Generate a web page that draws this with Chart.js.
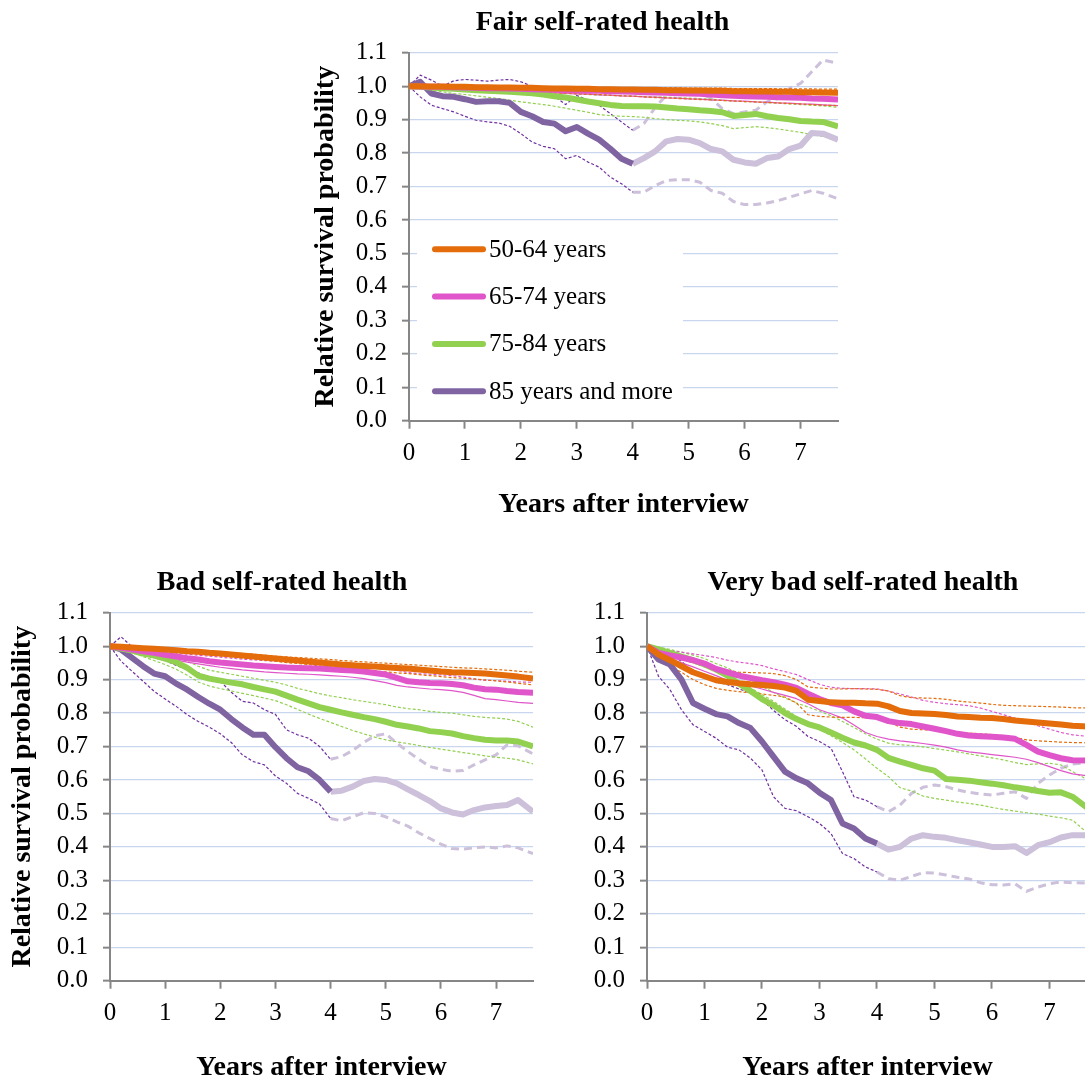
<!DOCTYPE html>
<html>
<head>
<meta charset="utf-8">
<script src="https://cdn.jsdelivr.net/npm/chart.js@4.4.1/dist/chart.umd.min.js"></script>
<style>
  html, body { margin: 0; padding: 0; background: #fff; width: 1085px; height: 1083px; overflow: hidden; position: relative; }
  canvas { position: absolute; }
</style>
</head>
<body>
<canvas id="fair" width="644" height="530" style="left:290px;top:0px"></canvas>
<canvas id="bad" width="570" height="530" style="left:0px;top:560px"></canvas>
<canvas id="verybad" width="646" height="530" style="left:540px;top:560px"></canvas>
<script>
// Years after interview (shared x values for every series)
const years = [0, 0.2, 0.4, 0.6, 0.8, 1.0, 1.2, 1.4, 1.6, 1.8,
  2.0, 2.2, 2.4, 2.6, 2.8, 3.0, 3.2, 3.4, 3.6, 3.8,
  4.0, 4.2, 4.4, 4.6, 4.8, 5.0, 5.2, 5.4, 5.6, 5.8,
  6.0, 6.2, 6.4, 6.6, 6.8, 7.0, 7.2, 7.4, 7.67];
const xTicks = [0, 1, 2, 3, 4, 5, 6, 7];
const yTicks = [0, 0.1, 0.2, 0.3, 0.4, 0.5, 0.6, 0.7, 0.8, 0.9, 1.0, 1.1];
const ageGroups = ['50-64 years', '65-74 years', '75-84 years', '85 years and more'];
const cutYear = 4; // 85+ curve is drawn faded after this point

// Fair self-rated health
const fair5064 = [1.0,1.0,0.999,0.999,0.998,0.998,0.997,0.997,0.996,0.996,0.995,0.995,0.994,0.993,0.993,0.992,0.992,0.991,0.991,0.99,0.99,0.989,0.989,0.988,0.988,0.987,0.987,0.986,0.986,0.985,0.985,0.984,0.984,0.983,0.983,0.982,0.982,0.981,0.98];
const fair5064Hi = [1.0,1.0,1.0,1.0,1.0,0.999,0.999,0.999,0.999,0.998,0.998,0.998,0.998,0.997,0.997,0.997,0.997,0.996,0.996,0.996,0.996,0.995,0.995,0.995,0.995,0.994,0.994,0.994,0.994,0.993,0.993,0.993,0.993,0.992,0.992,0.992,0.992,0.991,0.991];
const fair5064Lo = [1.0,0.999,0.997,0.996,0.994,0.993,0.991,0.99,0.988,0.987,0.985,0.984,0.982,0.98,0.979,0.977,0.976,0.975,0.973,0.971,0.97,0.968,0.966,0.965,0.963,0.962,0.96,0.959,0.957,0.956,0.954,0.953,0.951,0.95,0.948,0.947,0.945,0.943,0.942];
const fair6574 = [1.0,0.999,0.998,0.998,0.997,0.996,0.995,0.994,0.994,0.993,0.992,0.991,0.99,0.989,0.988,0.987,0.986,0.986,0.985,0.984,0.983,0.982,0.981,0.98,0.979,0.978,0.977,0.975,0.973,0.971,0.97,0.969,0.968,0.967,0.966,0.965,0.963,0.962,0.96];
const fair6574Hi = [1.0,1.0,1.0,0.999,0.999,0.998,0.998,0.997,0.997,0.996,0.996,0.995,0.995,0.994,0.994,0.993,0.993,0.992,0.992,0.991,0.991,0.99,0.99,0.989,0.989,0.988,0.987,0.987,0.986,0.985,0.985,0.984,0.983,0.983,0.982,0.981,0.98,0.979,0.978];
const fair6574Lo = [1.0,0.998,0.996,0.995,0.993,0.992,0.99,0.989,0.987,0.986,0.984,0.983,0.981,0.98,0.978,0.977,0.976,0.974,0.973,0.971,0.97,0.968,0.967,0.965,0.964,0.962,0.961,0.959,0.958,0.956,0.955,0.953,0.952,0.95,0.949,0.947,0.946,0.944,0.942];
const fair7584 = [1.0,0.998,0.996,0.994,0.992,0.99,0.988,0.986,0.985,0.983,0.981,0.979,0.975,0.97,0.966,0.96,0.954,0.949,0.944,0.941,0.94,0.94,0.939,0.936,0.933,0.931,0.928,0.926,0.922,0.911,0.914,0.917,0.91,0.905,0.901,0.896,0.894,0.893,0.88];
const fair7584Hi = [1.0,1.0,1.0,0.999,0.998,0.997,0.996,0.995,0.993,0.991,0.989,0.987,0.985,0.983,0.98,0.977,0.975,0.973,0.972,0.971,0.97,0.969,0.968,0.967,0.966,0.964,0.963,0.961,0.958,0.955,0.954,0.953,0.951,0.949,0.947,0.945,0.943,0.941,0.937];
const fair7584Lo = [1.0,0.993,0.988,0.983,0.978,0.975,0.971,0.967,0.963,0.958,0.953,0.949,0.945,0.94,0.934,0.928,0.922,0.915,0.912,0.91,0.909,0.907,0.903,0.9,0.898,0.896,0.893,0.888,0.882,0.873,0.876,0.879,0.876,0.872,0.867,0.862,0.855,0.85,0.843];
const fair85 = [1.0,1.013,0.978,0.97,0.968,0.961,0.953,0.955,0.955,0.95,0.923,0.91,0.893,0.888,0.865,0.878,0.858,0.84,0.813,0.783,0.768,0.785,0.805,0.835,0.842,0.84,0.83,0.812,0.805,0.78,0.772,0.768,0.785,0.79,0.812,0.822,0.86,0.858,0.84];
const fair85Hi = [1.0,1.033,1.018,1.0,1.016,1.02,1.018,1.015,1.018,1.02,1.013,1.0,0.98,0.97,0.945,0.972,0.958,0.943,0.918,0.893,0.868,0.888,0.936,0.973,0.983,0.988,0.98,0.963,0.933,0.918,0.923,0.928,0.953,0.963,0.993,1.008,1.043,1.078,1.068];
const fair85Lo = [1.0,0.968,0.943,0.933,0.923,0.91,0.898,0.893,0.89,0.88,0.858,0.833,0.82,0.813,0.783,0.793,0.773,0.758,0.728,0.708,0.683,0.683,0.703,0.718,0.72,0.72,0.713,0.688,0.68,0.655,0.646,0.646,0.651,0.658,0.668,0.678,0.688,0.68,0.663];

// Bad self-rated health
const bad5064 = [1.0,0.998,0.996,0.994,0.992,0.99,0.988,0.985,0.983,0.98,0.978,0.975,0.972,0.969,0.966,0.963,0.96,0.957,0.954,0.951,0.948,0.945,0.943,0.941,0.939,0.937,0.935,0.933,0.93,0.927,0.924,0.922,0.921,0.92,0.918,0.915,0.912,0.909,0.903];
const bad5064Hi = [1.0,0.999,0.998,0.997,0.995,0.993,0.991,0.989,0.987,0.985,0.983,0.98,0.978,0.976,0.973,0.97,0.968,0.966,0.964,0.962,0.96,0.957,0.955,0.953,0.951,0.949,0.947,0.945,0.943,0.941,0.939,0.937,0.935,0.934,0.932,0.93,0.928,0.925,0.922];
const bad5064Lo = [1.0,0.997,0.994,0.991,0.988,0.985,0.983,0.98,0.977,0.974,0.971,0.968,0.965,0.962,0.958,0.955,0.951,0.948,0.945,0.941,0.938,0.935,0.932,0.929,0.926,0.923,0.92,0.918,0.915,0.912,0.909,0.906,0.904,0.902,0.899,0.896,0.893,0.889,0.884];
const bad6574 = [1.0,0.995,0.99,0.985,0.98,0.974,0.969,0.964,0.96,0.955,0.951,0.948,0.945,0.942,0.94,0.938,0.936,0.935,0.934,0.933,0.931,0.929,0.927,0.924,0.92,0.915,0.905,0.895,0.892,0.89,0.889,0.887,0.883,0.876,0.871,0.87,0.866,0.863,0.861];
const bad6574Hi = [1.0,0.997,0.994,0.99,0.987,0.983,0.979,0.976,0.973,0.97,0.967,0.964,0.961,0.959,0.957,0.955,0.953,0.952,0.951,0.95,0.949,0.947,0.945,0.943,0.94,0.935,0.928,0.921,0.918,0.916,0.914,0.912,0.908,0.902,0.898,0.897,0.895,0.893,0.892];
const bad6574Lo = [1.0,0.993,0.986,0.979,0.972,0.965,0.958,0.952,0.947,0.942,0.937,0.933,0.929,0.926,0.923,0.921,0.919,0.917,0.916,0.914,0.912,0.91,0.907,0.903,0.897,0.891,0.883,0.878,0.875,0.872,0.87,0.867,0.862,0.853,0.843,0.84,0.836,0.832,0.829];
const bad7584 = [1.0,0.993,0.987,0.978,0.972,0.963,0.952,0.935,0.912,0.903,0.897,0.891,0.886,0.878,0.871,0.864,0.852,0.84,0.829,0.818,0.81,0.802,0.795,0.788,0.782,0.774,0.765,0.76,0.754,0.746,0.743,0.739,0.731,0.725,0.72,0.718,0.718,0.715,0.7];
const bad7584Hi = [1.0,0.996,0.992,0.987,0.981,0.974,0.966,0.955,0.94,0.928,0.922,0.916,0.91,0.904,0.898,0.892,0.884,0.874,0.866,0.858,0.851,0.846,0.84,0.835,0.83,0.825,0.818,0.813,0.81,0.805,0.802,0.8,0.795,0.79,0.787,0.785,0.782,0.775,0.758];
const bad7584Lo = [1.0,0.99,0.98,0.969,0.957,0.945,0.931,0.913,0.893,0.881,0.873,0.866,0.859,0.852,0.845,0.837,0.825,0.811,0.797,0.784,0.772,0.76,0.748,0.738,0.728,0.72,0.714,0.709,0.703,0.697,0.692,0.687,0.682,0.677,0.672,0.668,0.665,0.66,0.648];
const bad85 = [1.0,0.99,0.965,0.94,0.918,0.91,0.888,0.87,0.848,0.828,0.81,0.782,0.757,0.735,0.735,0.698,0.665,0.638,0.626,0.6,0.565,0.568,0.58,0.597,0.603,0.6,0.59,0.572,0.555,0.537,0.515,0.503,0.497,0.51,0.518,0.522,0.525,0.54,0.505];
const bad85Hi = [1.0,1.028,0.998,0.975,0.965,0.958,0.942,0.93,0.92,0.908,0.895,0.862,0.835,0.83,0.81,0.796,0.75,0.735,0.725,0.7,0.662,0.67,0.688,0.712,0.732,0.738,0.71,0.685,0.662,0.64,0.632,0.626,0.628,0.645,0.66,0.675,0.705,0.702,0.678];
const bad85Lo = [1.0,0.955,0.925,0.895,0.865,0.842,0.82,0.795,0.775,0.758,0.738,0.712,0.675,0.655,0.645,0.612,0.59,0.56,0.545,0.528,0.485,0.478,0.49,0.502,0.5,0.49,0.475,0.462,0.442,0.425,0.408,0.395,0.393,0.397,0.4,0.397,0.403,0.397,0.38];

// Very bad self-rated health
const vb5064 = [1.0,0.975,0.958,0.94,0.922,0.91,0.898,0.893,0.889,0.886,0.884,0.881,0.876,0.866,0.84,0.836,0.832,0.831,0.831,0.829,0.828,0.82,0.806,0.8,0.799,0.797,0.794,0.79,0.788,0.786,0.785,0.782,0.778,0.775,0.772,0.769,0.766,0.762,0.76];
const vb5064Hi = [1.0,0.99,0.975,0.962,0.95,0.94,0.932,0.926,0.922,0.921,0.92,0.918,0.912,0.9,0.878,0.875,0.872,0.872,0.873,0.872,0.871,0.866,0.852,0.846,0.845,0.844,0.841,0.836,0.833,0.83,0.826,0.823,0.822,0.821,0.82,0.819,0.818,0.816,0.815];
const vb5064Lo = [1.0,0.96,0.94,0.922,0.9,0.885,0.874,0.868,0.864,0.86,0.857,0.853,0.848,0.83,0.795,0.79,0.788,0.787,0.787,0.786,0.785,0.775,0.758,0.752,0.75,0.749,0.746,0.742,0.74,0.738,0.736,0.732,0.727,0.72,0.717,0.715,0.713,0.712,0.711];
const vb6574 = [1.0,0.98,0.972,0.966,0.958,0.948,0.932,0.922,0.912,0.905,0.898,0.892,0.885,0.875,0.858,0.842,0.83,0.823,0.805,0.792,0.788,0.776,0.77,0.767,0.76,0.753,0.746,0.738,0.733,0.731,0.729,0.727,0.723,0.705,0.685,0.674,0.665,0.659,0.658];
const vb6574Hi = [1.0,0.992,0.986,0.982,0.977,0.972,0.966,0.958,0.952,0.948,0.942,0.932,0.924,0.915,0.9,0.886,0.877,0.874,0.873,0.873,0.872,0.866,0.857,0.848,0.838,0.832,0.828,0.825,0.822,0.815,0.805,0.795,0.785,0.774,0.762,0.752,0.742,0.735,0.73];
const vb6574Lo = [1.0,0.975,0.962,0.95,0.938,0.925,0.912,0.898,0.89,0.881,0.872,0.862,0.853,0.843,0.828,0.81,0.798,0.785,0.764,0.742,0.73,0.722,0.717,0.713,0.709,0.704,0.698,0.69,0.684,0.68,0.676,0.672,0.668,0.662,0.652,0.64,0.628,0.618,0.612];
const vb7584 = [1.0,0.99,0.98,0.969,0.958,0.945,0.93,0.912,0.888,0.866,0.842,0.823,0.8,0.782,0.767,0.757,0.742,0.726,0.712,0.703,0.69,0.666,0.655,0.645,0.635,0.628,0.603,0.601,0.598,0.593,0.589,0.584,0.578,0.573,0.567,0.562,0.563,0.55,0.515];
const vb7584Hi = [1.0,0.997,0.99,0.982,0.973,0.963,0.948,0.935,0.918,0.9,0.88,0.862,0.845,0.83,0.818,0.806,0.792,0.775,0.757,0.738,0.722,0.71,0.705,0.703,0.699,0.694,0.689,0.684,0.678,0.672,0.666,0.66,0.652,0.646,0.648,0.65,0.645,0.625,0.6];
const vb7584Lo = [1.0,0.99,0.978,0.965,0.952,0.938,0.925,0.912,0.895,0.875,0.855,0.835,0.812,0.79,0.77,0.752,0.732,0.712,0.69,0.663,0.635,0.61,0.577,0.567,0.552,0.545,0.54,0.534,0.53,0.525,0.518,0.512,0.507,0.502,0.498,0.492,0.487,0.48,0.44];
const vb85 = [1.0,0.96,0.945,0.9,0.83,0.813,0.797,0.79,0.77,0.755,0.715,0.67,0.625,0.605,0.59,0.562,0.54,0.47,0.455,0.425,0.41,0.392,0.4,0.425,0.435,0.43,0.427,0.42,0.414,0.407,0.4,0.4,0.402,0.382,0.405,0.414,0.428,0.435,0.435];
const vb85Hi = [1.0,0.995,0.972,0.955,0.922,0.905,0.893,0.885,0.872,0.86,0.84,0.808,0.78,0.76,0.73,0.715,0.695,0.625,0.55,0.54,0.52,0.505,0.525,0.56,0.578,0.585,0.58,0.57,0.563,0.558,0.555,0.56,0.565,0.545,0.59,0.615,0.635,0.648,0.652];
const vb85Lo = [1.0,0.91,0.87,0.81,0.765,0.745,0.725,0.698,0.69,0.665,0.63,0.55,0.515,0.508,0.49,0.47,0.44,0.38,0.365,0.34,0.325,0.305,0.3,0.312,0.323,0.322,0.316,0.309,0.304,0.293,0.287,0.286,0.29,0.267,0.28,0.29,0.295,0.293,0.292];

const colors = ['#e46c0a', '#e055c9', '#92d050', '#8064a2'];
const lateColor = '#ccc0da';
const oldCiColor = '#7030a0';

Chart.defaults.font.family = '"Liberation Serif", "Times New Roman", serif';
Chart.defaults.color = '#000';

function pts(vals, from, to) {
  return years.map((x, i) => ({ x: x, y: vals[i] }))
    .filter(p => p.x >= from - 1e-9 && p.x <= to + 1e-9 && p.y != null);
}

function line(label, data, color, width, dash, order) {
  return {
    label: label, data: data, borderColor: color, borderWidth: width,
    borderDash: dash || [], pointRadius: 0, tension: 0, fill: false,
    order: order, borderCapStyle: 'butt', borderJoinStyle: 'round'
  };
}

function buildDatasets(groups) {
  let ds = [];
  const end = years[years.length - 1];
  groups.forEach((g, k) => {
    if (k < 3) {
      ds.push(line(ageGroups[k], pts(g.est, 0, end), colors[k], 6, null, 1));
      ds.push(line(ageGroups[k] + ' upper', pts(g.hi, 0, end), colors[k], 1.2, [3, 2], 2));
      // the 65-74 lower bound is a thin solid line
      ds.push(line(ageGroups[k] + ' lower', pts(g.lo, 0, end), colors[k], 1.2, k === 1 ? null : [3, 2], 2));
    } else {
      ds.push(line(ageGroups[k], pts(g.est, 0, cutYear), colors[k], 6, null, 1));
      ds.push(line(ageGroups[k] + ' late', pts(g.est, cutYear, end), lateColor, 6, null, 1));
      ds.push(line(ageGroups[k] + ' upper', pts(g.hi, 0, cutYear), oldCiColor, 1.2, [3, 2], 2));
      ds.push(line(ageGroups[k] + ' upper late', pts(g.hi, cutYear, end), lateColor, 3, [8, 5], 2));
      ds.push(line(ageGroups[k] + ' lower', pts(g.lo, 0, cutYear), oldCiColor, 1.2, [3, 2], 2));
      ds.push(line(ageGroups[k] + ' lower late', pts(g.lo, cutYear, end), lateColor, 3, [8, 5], 2));
    }
  });
  return ds;
}

// Panel title, centred on the whole figure block rather than the plot
const panelTitle = {
  id: 'panelTitle',
  afterDraw(chart, args, opts) {
    const ctx = chart.ctx;
    ctx.save();
    ctx.font = 'bold 28px "Liberation Serif"';
    ctx.fillStyle = '#000';
    ctx.textAlign = 'center';
    ctx.textBaseline = 'middle';
    ctx.fillText(opts.text, opts.x, 22.4);
    ctx.restore();
  }
};

// Legend drawn inside the plot on a white box (as in the source figure)
const insideLegend = {
  id: 'insideLegend',
  beforeDatasetsDraw(chart, args, opts) {
    if (!opts.show) return;
    const ctx = chart.ctx;
    const a = chart.chartArea;
    ctx.save();
    ctx.fillStyle = '#fff';
    ctx.fillRect(a.left + 8, a.top + 180, 266, 176);
    ctx.font = '25px "Liberation Serif"';
    ctx.textBaseline = 'middle';
    ageGroups.forEach((name, i) => {
      const y = a.top + 196.6 + i * 47.3;
      ctx.strokeStyle = colors[i];
      ctx.lineWidth = 6;
      ctx.lineCap = 'round';
      ctx.beginPath();
      ctx.moveTo(a.left + 26, y);
      ctx.lineTo(a.left + 74, y);
      ctx.stroke();
      ctx.fillStyle = '#000';
      ctx.fillText(name, a.left + 80, y + 1);
    });
    ctx.restore();
  }
};

function drawPanel(id, title, groups, geo) {
  const ctx = document.getElementById(id).getContext('2d');
  new Chart(ctx, {
    type: 'line',
    data: { datasets: buildDatasets(groups) },
    options: {
      responsive: false,
      animation: false,
      layout: { padding: { left: 0, right: geo.padRight, top: 52.7, bottom: 0 } },
      plugins: {
        legend: { display: false },
        tooltip: { enabled: false },
        title: { display: false },
        panelTitle: { text: title, x: geo.titleX },
        insideLegend: { show: geo.legend }
      },
      scales: {
        x: {
          type: 'linear', min: 0, max: 7.67,
          afterBuildTicks: s => { s.ticks = xTicks.map(v => ({ value: v })); },
          afterFit: s => { s.height = 109.3; },
          ticks: { font: { size: 25 }, padding: 10, color: '#000', callback: v => String(v), maxRotation: 0 },
          grid: { drawOnChartArea: false, drawTicks: true, tickLength: 8, tickColor: '#868686', tickWidth: 2 },
          border: { color: '#868686', width: 2 },
          title: { display: true, text: 'Years after interview', color: '#000',
                   font: { size: 28, weight: 'bold' }, padding: { top: 0, bottom: geo.xTitlePad } }
        },
        y: {
          min: 0, max: 1.1,
          afterBuildTicks: s => { s.ticks = yTicks.map(v => ({ value: v })); },
          afterFit: s => { s.width = geo.yWidth; },
          ticks: { font: { size: 25 }, padding: 15, color: '#000', callback: v => v.toFixed(1) },
          grid: { color: '#c9d7ee', lineWidth: 1.3, drawTicks: true, tickLength: 7, tickColor: '#868686', tickWidth: 2 },
          border: { color: '#868686', width: 2 },
          title: { display: geo.yTitle, text: 'Relative survival probability', color: '#000',
                   font: { size: 28, weight: 'bold' }, padding: { top: geo.yTitlePad, bottom: 0 } }
        }
      }
    },
    plugins: [panelTitle, insideLegend]
  });
}

drawPanel('fair', 'Fair self-rated health', [
  { est: fair5064, hi: fair5064Hi, lo: fair5064Lo },
  { est: fair6574, hi: fair6574Hi, lo: fair6574Lo },
  { est: fair7584, hi: fair7584Hi, lo: fair7584Lo },
  { est: fair85, hi: fair85Hi, lo: fair85Lo }
], { padRight: 96, yWidth: 119, yTitle: true, yTitlePad: 19, xTitlePad: 8.7, legend: true, titleX: 312.5 });

drawPanel('bad', 'Bad self-rated health', [
  { est: bad5064, hi: bad5064Hi, lo: bad5064Lo },
  { est: bad6574, hi: bad6574Hi, lo: bad6574Lo },
  { est: bad7584, hi: bad7584Hi, lo: bad7584Lo },
  { est: bad85, hi: bad85Hi, lo: bad85Lo }
], { padRight: 37, yWidth: 110, yTitle: true, yTitlePad: 5.6, xTitlePad: 5.8, legend: false, titleX: 282 });

drawPanel('verybad', 'Very bad self-rated health', [
  { est: vb5064, hi: vb5064Hi, lo: vb5064Lo },
  { est: vb6574, hi: vb6574Hi, lo: vb6574Lo },
  { est: vb7584, hi: vb7584Hi, lo: vb7584Lo },
  { est: vb85, hi: vb85Hi, lo: vb85Lo }
], { padRight: 98, yWidth: 107, yTitle: false, yTitlePad: 0, xTitlePad: 5.8, legend: false, titleX: 323 });
</script>
</body>
</html>
